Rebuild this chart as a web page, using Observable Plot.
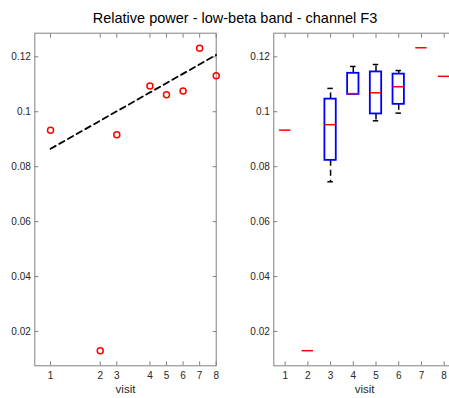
<!DOCTYPE html>
<html>
<head>
<meta charset="utf-8">
<script src="https://cdn.jsdelivr.net/npm/d3@7"></script>
<script src="https://cdn.jsdelivr.net/npm/@observablehq/plot@0.6"></script>
<style>
  html, body { margin: 0; padding: 0; background: #fff; }
  #fig { position: relative; width: 449px; height: 398px; overflow: hidden; background: #fff;
         font-family: "Liberation Sans", Arial, Helvetica, sans-serif; }
  #title { position: absolute; left: 0; width: 470px; top: 10px; text-align: center;
           font-size: 14.5px; color: #000; white-space: nowrap; }
  #left { position: absolute; left: 0; top: 0; width: 224px; }
  #right { position: absolute; left: 230px; top: 0; width: 230px; }
  svg { max-width: none !important; }
</style>
</head>
<body>
<div id="fig">
  <div id="left"></div>
  <div id="right"></div>
  <div id="title">Relative power - low-beta band - channel F3</div>
</div>
<script>
// ---- data ----
const visits = [1, 2, 3, 4, 5, 6, 7, 8];
// relative timing of the visits (spacing of the left panel's x axis)
const visitTime = [0, 3, 4, 6, 7, 8, 9, 10];
// left panel: one value per visit
const meanPower = [0.0933, 0.0130, 0.0916, 0.1094, 0.1062, 0.1076, 0.1231, 0.1131];
// dashed trend line values at first and last visit
const fitValues = [0.0865, 0.1207];
// right panel: box statistics per visit
const boxQ1       = [0.0933, 0.0130, 0.0823, 0.1063, 0.0992, 0.1027, 0.1233, 0.1129];
const boxMedian   = [0.0933, 0.0130, 0.0953, 0.1066, 0.1069, 0.1091, 0.1233, 0.1129];
const boxQ3       = [0.0933, 0.0130, 0.1046, 0.1140, 0.1145, 0.1137, 0.1233, 0.1129];
const whiskerLow  = [0.0933, 0.0130, 0.0745, 0.1063, 0.0967, 0.0995, 0.1233, 0.1129];
const whiskerHigh = [0.0933, 0.0130, 0.1085, 0.1165, 0.1172, 0.1150, 0.1233, 0.1129];
const yTicks = [0.02, 0.04, 0.06, 0.08, 0.1, 0.12];
const yDomain = [0.0075, 0.1286];

// ---- styling ----
const axisGray = "#808080";
const textColor = "#262626";
const font = "Liberation Sans, Arial, Helvetica, sans-serif";
const fmtY = d => String(+d.toFixed(2));
const style = {fontFamily: font, fontSize: "10px", color: textColor, background: "transparent", overflow: "visible", maxWidth: "none"};

function frameAxes(xTicks, xFormat) {
  return [
    Plot.frame({stroke: axisGray, strokeWidth: 1}),
    // inward tick marks on all four sides
    Plot.axisX({anchor: "bottom", ticks: xTicks, tickSize: -4, tickFormat: () => "", stroke: axisGray, label: null}),
    Plot.axisX({anchor: "top", ticks: xTicks, tickSize: -4, tickFormat: () => "", stroke: axisGray, label: null}),
    Plot.axisY({anchor: "left", ticks: yTicks, tickSize: -4, tickFormat: () => "", stroke: axisGray, label: null}),
    Plot.axisY({anchor: "right", ticks: yTicks, tickSize: -4, tickFormat: () => "", stroke: axisGray, label: null}),
    // labels
    Plot.axisX({anchor: "bottom", ticks: xTicks, tickSize: 0, tickPadding: 6, tickFormat: xFormat, fill: textColor, label: null, fontSize: 10}),
    Plot.axisY({anchor: "left", ticks: yTicks, tickSize: 0, tickPadding: 4, tickFormat: fmtY, fill: textColor, label: null, fontSize: 10}),
    Plot.text(["visit"], {frameAnchor: "bottom", dy: 27, fontSize: 11.5, fill: textColor})
  ];
}

const left = Plot.plot({
  width: 224, height: 398,
  marginLeft: 34.3, marginRight: 8.3, marginTop: 32.7, marginBottom: 32.7,
  style,
  x: {domain: [-0.95, 10]},
  y: {domain: yDomain},
  marks: [
    ...frameAxes(visitTime, d => visits[visitTime.indexOf(d)]),
    Plot.line(fitValues, {x: [visitTime[0], visitTime[visitTime.length - 1]], y: fitValues,
      stroke: "black", strokeWidth: 1.8, strokeDasharray: "6,4"}),
    Plot.dot(visits, {x: visitTime, y: meanPower, r: 3, stroke: "#ff0000", strokeWidth: 1.5, fill: "none"})
  ]
});
document.getElementById("left").appendChild(left);

const boxHalf = 0.25, capHalf = 0.12;
const idx = visits.map((_, i) => i);
const boxIdx = idx.filter(i => boxQ3[i] > boxQ1[i]);
const hiIdx = boxIdx.filter(i => whiskerHigh[i] > boxQ3[i]);
const loIdx = boxIdx.filter(i => whiskerLow[i] < boxQ1[i]);

const right = Plot.plot({
  width: 230, height: 398,
  marginLeft: 43.3, marginRight: 5, marginTop: 32.7, marginBottom: 32.7,
  style,
  x: {domain: [0.5, 8.5]},
  y: {domain: yDomain},
  marks: [
    ...frameAxes(visits, d => String(d)),
    Plot.ruleX(hiIdx, {x: i => visits[i], y1: i => boxQ3[i], y2: i => whiskerHigh[i], stroke: "black", strokeWidth: 1.5, strokeDasharray: "6,4"}),
    Plot.ruleX(loIdx, {x: i => visits[i], y1: i => boxQ1[i], y2: i => whiskerLow[i], stroke: "black", strokeWidth: 1.5, strokeDasharray: "6,4"}),
    Plot.ruleY(hiIdx, {y: i => whiskerHigh[i], x1: i => visits[i] - capHalf, x2: i => visits[i] + capHalf, stroke: "black", strokeWidth: 1.5}),
    Plot.ruleY(loIdx, {y: i => whiskerLow[i], x1: i => visits[i] - capHalf, x2: i => visits[i] + capHalf, stroke: "black", strokeWidth: 1.5}),
    Plot.rect(boxIdx, {x1: i => visits[i] - boxHalf, x2: i => visits[i] + boxHalf, y1: i => boxQ1[i], y2: i => boxQ3[i],
      fill: "none", stroke: "#0000ff", strokeWidth: 1.8}),
    Plot.ruleY(idx, {y: i => boxMedian[i], x1: i => visits[i] - boxHalf, x2: i => visits[i] + boxHalf, stroke: "#ff0000", strokeWidth: 1.5})
  ]
});
document.getElementById("right").appendChild(right);
</script>
</body>
</html>
